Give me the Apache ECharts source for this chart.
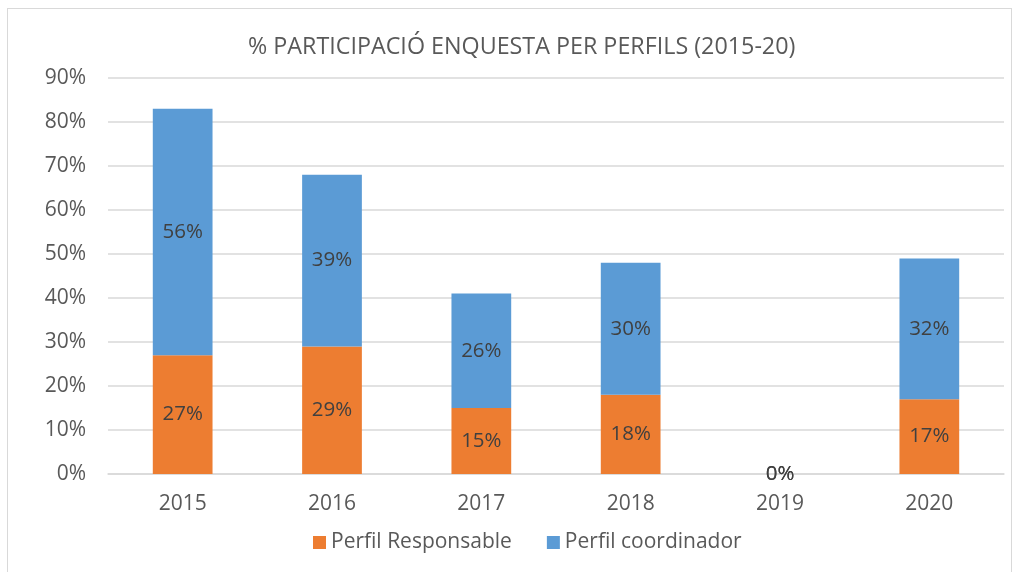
<!DOCTYPE html>
<html>
<head>
<meta charset="utf-8">
<script src="https://cdn.jsdelivr.net/npm/echarts@6/dist/echarts.min.js"></script>
<style>
  html, body { margin: 0; padding: 0; background: #fff; }
  #frame { position: absolute; left: 7px; top: 8px; width: 1005px; height: 580px; border: 1px solid #d9d9d9; box-sizing: border-box; }
  #bars { position: absolute; left: 0; top: 0; width: 1022px; height: 572px; }
</style>
</head>
<body>
<div id="frame"></div>
<div id="bars"></div>
<script>
  // dades
  var years = ['2015', '2016', '2017', '2018', '2019', '2020'];
  var responsable = [27, 29, 15, 18, 0, 17];
  var coordinador = [56, 39, 26, 30, 0, 32];
  var yTicks = [0, 10, 20, 30, 40, 50, 60, 70, 80, 90];

  var font = '"Open Sans", "Noto Sans", sans-serif';
  var myChart = echarts.init(document.getElementById('bars'));

  function labelCfg() {
    return {
      show: true,
      position: 'inside',
      formatter: '{c}%',
      color: '#404040',
      fontSize: 20.5,
      fontFamily: font
    };
  }

  var option = {
    animation: false,
    color: ['#ED7D31', '#5B9BD5'],
    title: {
      text: '% PARTICIPACIÓ ENQUESTA PER PERFILS (2015-20)',
      left: 243,
      top: 31,
      textStyle: { color: '#595959', fontSize: 23.3, fontWeight: 'normal', fontFamily: font }
    },
    legend: {
      bottom: 14,
      left: 308,
      itemWidth: 13,
      itemHeight: 13,
      itemGap: 35,
      icon: 'rect',
      textStyle: { color: '#595959', fontSize: 21, fontFamily: font },
      data: ['Perfil Responsable', 'Perfil coordinador']
    },
    grid: { left: 108, right: 18, top: 78, bottom: 98 },
    xAxis: {
      type: 'category',
      data: years,
      axisLine: { lineStyle: { color: '#d9d9d9', width: 1.5 } },
      axisTick: { show: false },
      axisLabel: { color: '#595959', fontSize: 21, fontFamily: font, margin: 20 }
    },
    yAxis: {
      type: 'value',
      min: yTicks[0],
      max: yTicks[yTicks.length - 1],
      interval: 10,
      axisLine: { show: false },
      axisTick: { show: false },
      splitLine: { lineStyle: { color: '#d9d9d9', width: 1.5 } },
      axisLabel: { color: '#595959', fontSize: 21, fontFamily: font, margin: 22, formatter: '{value}%' }
    },
    series: [
      {
        name: 'Perfil Responsable',
        type: 'bar',
        stack: 'total',
        barWidth: '40%',
        data: responsable,
        label: labelCfg()
      },
      {
        name: 'Perfil coordinador',
        type: 'bar',
        stack: 'total',
        barWidth: '40%',
        data: coordinador,
        label: labelCfg()
      }
    ]
  };
  myChart.setOption(option);
</script>
</body>
</html>
